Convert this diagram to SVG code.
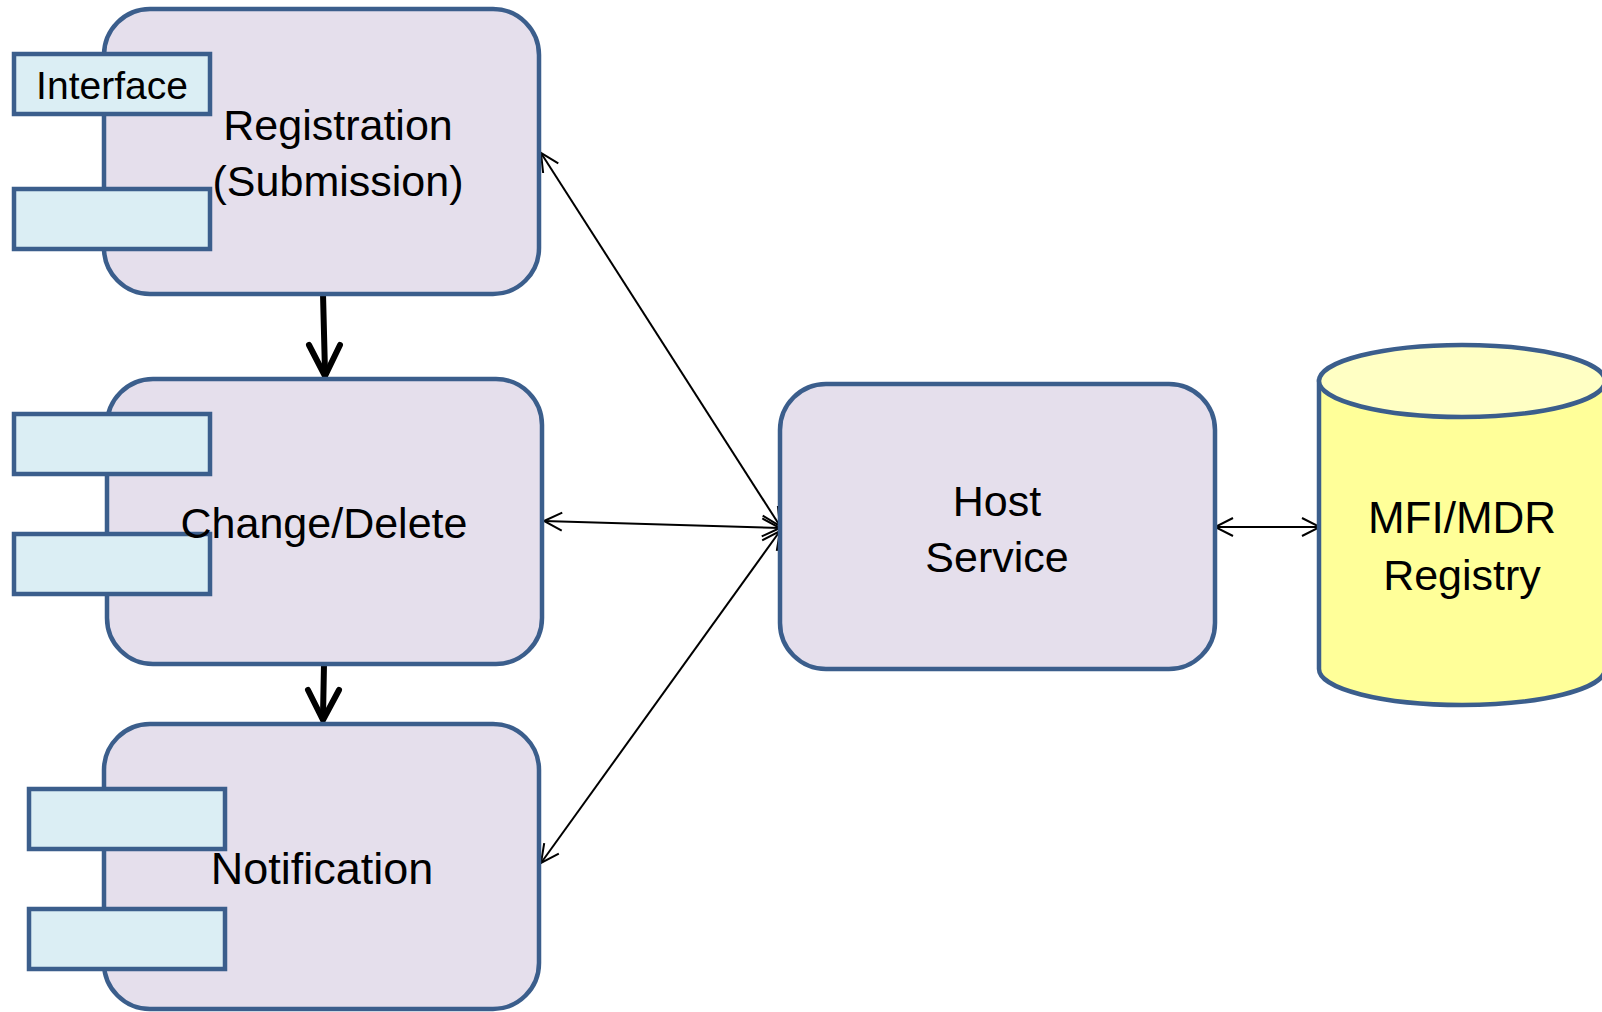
<svg xmlns="http://www.w3.org/2000/svg" width="1602" height="1012" viewBox="0 0 1602 1012">
<defs>
<style>
.box{fill:#E5DFEC;stroke:#3B5E8C;stroke-width:4.5}
.port{fill:#DBEEF4;stroke:#3B5E8C;stroke-width:4.5}
.lbl{font-family:"Liberation Sans",Arial,sans-serif;font-size:43px;fill:#000;text-anchor:middle}
.small{font-size:39px}
.thin{stroke:#000;stroke-width:2;fill:none;marker-start:url(#v);marker-end:url(#v)}
.thick{stroke:#000;stroke-width:6;fill:none;stroke-linecap:round}
</style>
<marker id="v" viewBox="0 0 22 22" refX="20" refY="11" markerWidth="22" markerHeight="22" markerUnits="userSpaceOnUse" orient="auto-start-reverse">
<path d="M2,2 L20,11 L2,20" fill="none" stroke="#000" stroke-width="2"/>
</marker>
</defs>
<rect width="1602" height="1012" fill="#fff"/>
<g id="connectors">
<line class="thin" x1="541" y1="153" x2="780" y2="526"/>
<line class="thin" x1="544" y1="521" x2="780" y2="528"/>
<line class="thin" x1="541" y1="863" x2="780" y2="531"/>
<line class="thin" x1="1215" y1="527" x2="1320" y2="527"/>
<path class="thick" d="M323,294 L325,372" stroke-linecap="butt"/>
<path class="thick" d="M309,345 L325,376 L340,345" stroke-linejoin="miter"/>
<path class="thick" d="M324,664 L323,716" stroke-linecap="butt"/>
<path class="thick" d="M308,690 L323,720 L339,690" stroke-linejoin="miter"/>
</g>
<g id="registration">
<rect class="box" x="104" y="9" width="435" height="285" rx="46"/>
<rect class="port" x="14" y="54" width="196" height="60"/>
<rect class="port" x="14" y="189" width="196" height="60"/>
<text class="lbl small" x="112" y="99">Interface</text>
<text class="lbl" x="338" y="140">Registration</text>
<text class="lbl" x="338" y="196">(Submission)</text>
</g>
<g id="change-delete">
<rect class="box" x="107" y="379" width="435" height="285" rx="46"/>
<rect class="port" x="14" y="414" width="196" height="60"/>
<rect class="port" x="14" y="534" width="196" height="60"/>
<text class="lbl" x="324" y="538">Change/Delete</text>
</g>
<g id="notification">
<rect class="box" x="104" y="724" width="435" height="285" rx="46"/>
<rect class="port" x="29" y="789" width="196" height="60"/>
<rect class="port" x="29" y="909" width="196" height="60"/>
<text class="lbl" x="322" y="884" style="font-size:45px">Notification</text>
</g>
<g id="host-service">
<rect class="box" x="780" y="384" width="435" height="285" rx="46"/>
<text class="lbl" x="997" y="516">Host</text>
<text class="lbl" x="997" y="572">Service</text>
</g>
<g id="registry">
<path d="M1319,381 L1319,669 A143,36 0 0 0 1605,669 L1605,381 Z" fill="#FFFF99" stroke="#3B5E8C" stroke-width="4.5"/>
<ellipse cx="1462" cy="381" rx="143" ry="36" fill="#FFFFC4" stroke="#3B5E8C" stroke-width="4.5"/>
<text class="lbl" x="1462" y="533" style="font-size:44px">MFI/MDR</text>
<text class="lbl" x="1462" y="590">Registry</text>
</g>
</svg>
